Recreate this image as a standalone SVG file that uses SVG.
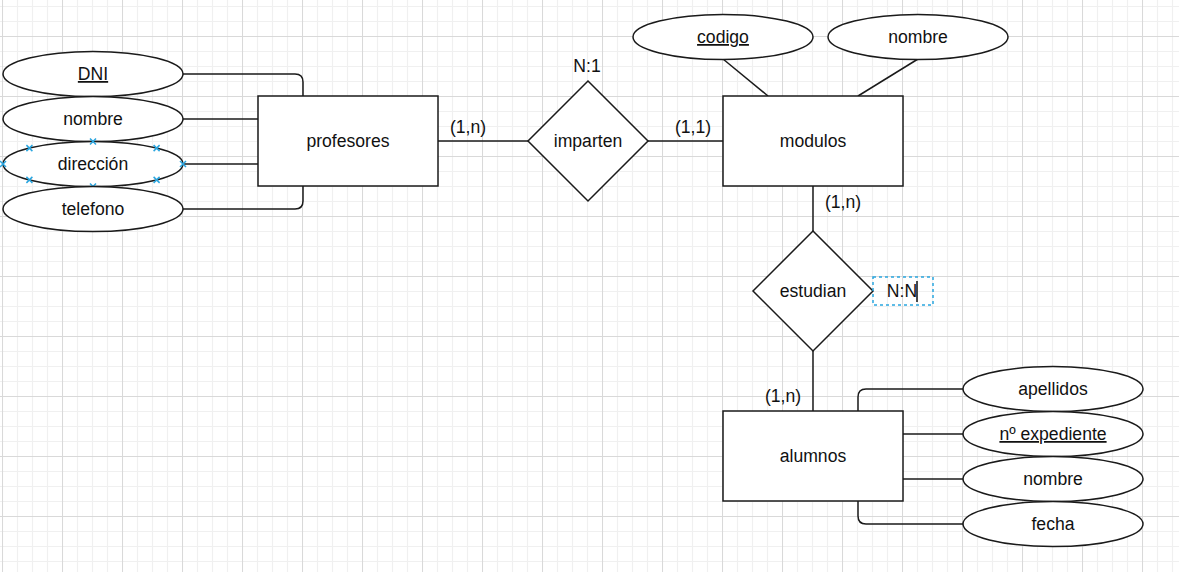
<svg xmlns="http://www.w3.org/2000/svg" width="1179" height="572" viewBox="0 0 1179 572">
  <defs>
    <pattern id="grid" patternUnits="userSpaceOnUse" x="2" y="-24" width="60" height="60">
      <path d="M15.5 0V60M30.5 0V60M45.5 0V60M0 15.5H60M0 30.5H60M0 45.5H60" stroke="#f0f0f0" stroke-width="1.2" fill="none"/>
      <path d="M0.5 0V60M0 0.5H60" stroke="#d9d9d9" stroke-width="1.1" fill="none"/>
    </pattern>
  </defs>
  <style>
    .shape { fill: #ffffff; stroke: #1a1a1a; stroke-width: 1.5; }
    .edge { fill: none; stroke: #1a1a1a; stroke-width: 1.5; }
    text { font-family: "Liberation Sans", Arial, sans-serif; font-size: 17.6px; fill: #111111; text-anchor: middle; }
    .key { text-decoration: underline; }
    .mark { stroke: #2aa6e0; stroke-width: 1.5; fill: none; }
    .sel { fill: none; stroke: #2aa6e0; stroke-width: 1.5; stroke-dasharray: 3 3; }
  </style>
  <rect x="0" y="0" width="1179" height="572" fill="#ffffff"/>
  <rect x="0" y="0" width="1179" height="572" fill="url(#grid)"/>

  <g id="connectors">
    <path class="edge" d="M183 74H295Q303 74 303 82V96"/>
    <path class="edge" d="M183 119H258"/>
    <path class="edge" d="M183 164H258"/>
    <path class="edge" d="M183 209H295Q303 209 303 201V186"/>
    <path class="edge" d="M438 141H528"/>
    <path class="edge" d="M648 141H723"/>
    <path class="edge" d="M723 59L768 96"/>
    <path class="edge" d="M918 59L858 96"/>
    <path class="edge" d="M813 186V231"/>
    <path class="edge" d="M813 351V411"/>
    <path class="edge" d="M963 389H866Q858 389 858 397V411"/>
    <path class="edge" d="M903 434H963"/>
    <path class="edge" d="M903 479H963"/>
    <path class="edge" d="M963 524H866Q858 524 858 516V501"/>
  </g>

  <g id="attr-dni">
    <ellipse class="shape" cx="93" cy="74" rx="90" ry="22.5"/>
    <text class="key" x="93" y="80">DNI</text>
  </g>
  <g id="attr-prof-nombre">
    <ellipse class="shape" cx="93" cy="119" rx="90" ry="22.5"/>
    <text x="93" y="125">nombre</text>
  </g>
  <g id="attr-direccion">
    <ellipse class="shape" cx="93" cy="164" rx="90" ry="22.5"/>
    <text x="93" y="170">dirección</text>
    <path class="mark" d="M0 161l6 6M0 167l6-6M26.4 145.1l6 6M26.4 151.1l6-6M90 138.5l6 6M90 144.5l6-6M153.6 145.1l6 6M153.6 151.1l6-6M180 161l6 6M180 167l6-6M153.6 176.9l6 6M153.6 182.9l6-6M90 183.5l6 6M90 189.5l6-6M26.4 176.9l6 6M26.4 182.9l6-6"/>
  </g>
  <g id="attr-telefono">
    <ellipse class="shape" cx="93" cy="209" rx="90" ry="22.5"/>
    <text x="93" y="215">telefono</text>
  </g>

  <g id="profesores">
    <rect class="shape" x="258" y="96" width="180" height="90"/>
    <text x="348" y="147">profesores</text>
  </g>

  <g id="imparten">
    <path class="shape" d="M588 81L648 141L588 201L528 141Z"/>
    <text x="588" y="147">imparten</text>
    <text x="587" y="72">N:1</text>
  </g>
  <g id="label-prof-card">
    <text x="468" y="133">(1,n)</text>
  </g>
  <g id="label-mod-card">
    <text x="693" y="133">(1,1)</text>
  </g>

  <g id="modulos">
    <rect class="shape" x="723" y="96" width="180" height="90"/>
    <text x="813" y="147">modulos</text>
  </g>
  <g id="attr-codigo">
    <ellipse class="shape" cx="723" cy="37" rx="90" ry="22.5"/>
    <text class="key" x="723" y="43">codigo</text>
  </g>
  <g id="attr-mod-nombre">
    <ellipse class="shape" cx="918" cy="37" rx="90" ry="22.5"/>
    <text x="918" y="43">nombre</text>
  </g>

  <g id="label-mod-card2">
    <text x="843" y="208">(1,n)</text>
  </g>
  <g id="estudian">
    <path class="shape" d="M813 231L873 291L813 351L753 291Z"/>
    <text x="813" y="297">estudian</text>
  </g>
  <g id="label-nn">
    <rect class="sel" x="873" y="277" width="60" height="28"/>
    <text x="902" y="297">N:N</text>
    <path d="M917 281V302" stroke="#111111" stroke-width="1.5"/>
  </g>
  <g id="label-alu-card">
    <text x="783" y="402">(1,n)</text>
  </g>

  <g id="alumnos">
    <rect class="shape" x="723" y="411" width="180" height="90"/>
    <text x="813" y="462">alumnos</text>
  </g>
  <g id="attr-apellidos">
    <ellipse class="shape" cx="1053" cy="389" rx="90" ry="22.5"/>
    <text x="1053" y="395">apellidos</text>
  </g>
  <g id="attr-expediente">
    <ellipse class="shape" cx="1053" cy="434" rx="90" ry="22.5"/>
    <text class="key" x="1053" y="440">nº expediente</text>
  </g>
  <g id="attr-alu-nombre">
    <ellipse class="shape" cx="1053" cy="479" rx="90" ry="22.5"/>
    <text x="1053" y="485">nombre</text>
  </g>
  <g id="attr-fecha">
    <ellipse class="shape" cx="1053" cy="524" rx="90" ry="22.5"/>
    <text x="1053" y="530">fecha</text>
  </g>
</svg>
